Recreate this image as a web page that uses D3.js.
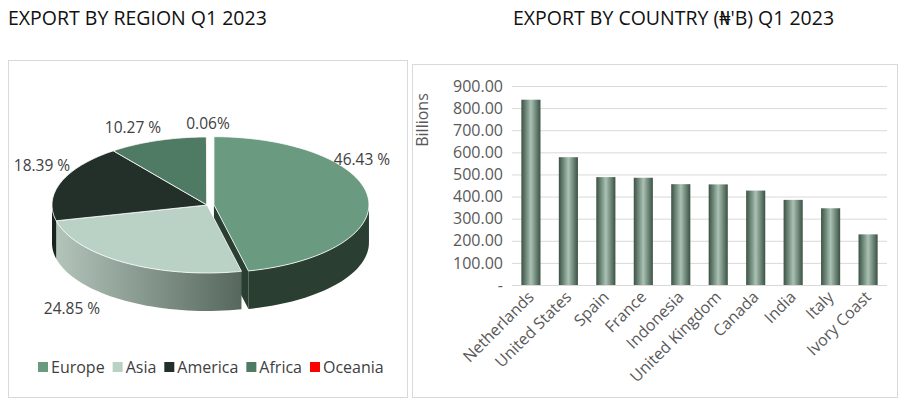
<!DOCTYPE html>
<html><head><meta charset="utf-8">
<script src="https://cdn.jsdelivr.net/npm/d3@7"></script>
<style>body{margin:0;background:#fff}text{font-family:"Open Sans","Noto Sans",sans-serif}</style>
</head><body>
<svg width="900" height="404"></svg>
<script>
var regions = ["Europe", "Asia", "America", "Africa", "Oceania"];
var regionShares = [46.43, 24.85, 18.39, 10.27, 0.06];
var regionLabels = ["46.43 %", "24.85 %", "18.39 %", "10.27 %", "0.06%"];
var countries = ["Netherlands", "United States", "Spain", "France", "Indonesia", "United Kingdom", "Canada", "India", "Italy", "Ivory Coast"];
var exportsB = [838, 578, 488, 485, 456, 455, 427, 385, 347, 229];
var yTicks = [0, 100, 200, 300, 400, 500, 600, 700, 800, 900];

var svg = d3.select("svg");
var defs = svg.append("defs");

// panel frames
svg.append("rect").attr("x", 8.5).attr("y", 60.5).attr("width", 399).attr("height", 337)
    .attr("fill", "none").attr("stroke", "#d9d9d9");
svg.append("rect").attr("x", 412.5).attr("y", 64.5).attr("width", 485).attr("height", 333)
    .attr("fill", "none").attr("stroke", "#d9d9d9");

svg.append("text").attr("x", 8).attr("y", 25).attr("font-size", 19.5).attr("fill", "#111")
    .text("EXPORT BY REGION Q1 2023");
svg.append("text").attr("x", 513).attr("y", 25).attr("font-size", 19.5).attr("fill", "#111")
    .text("EXPORT BY COUNTRY (₦'B) Q1 2023");

// ---------- 3D pie ----------
var topCol = ["#6a9a80", "#bad2c6", "#23302a", "#4f7a63", "#ff0000"];
var sideCol = ["#2b3e32", "url(#asiaSide)", "#1a241f", "#3b5a49", "#cc0000"];
var g1 = defs.append("linearGradient").attr("id", "asiaSide");
g1.append("stop").attr("offset", "0%").attr("stop-color", "#b3c4bb");
g1.append("stop").attr("offset", "100%").attr("stop-color", "#56685d");

var cx = 207, cy = 205, rx = 155, ry = 68, depth = 38;
var arcs = d3.pie().sort(null).value(function (d) { return d; })(regionShares);

function pt(a, ox, oy, dz) {
    return [cx + ox + rx * Math.sin(a), cy + oy - ry * Math.cos(a) + dz];
}
function offs(i) {
    if (i != 0) return [0, 0];
    var m = (arcs[0].startAngle + arcs[0].endAngle) / 2;
    return [7 * Math.sin(m), -7 * Math.cos(m) * ry / rx];
}
var line = d3.line();
var pie = svg.append("g");

// side walls
arcs.forEach(function (a, i) {
    var o = offs(i);
    var s = Math.max(a.startAngle, Math.PI / 2), e = Math.min(a.endAngle, 3 * Math.PI / 2);
    if (e > s) {
        var pts = [], n = 40;
        for (var k = 0; k <= n; k++) pts.push(pt(s + (e - s) * k / n, o[0], o[1], 0));
        for (var k = n; k >= 0; k--) pts.push(pt(s + (e - s) * k / n, o[0], o[1], depth));
        pie.append("path").attr("d", line(pts) + "Z").attr("fill", sideCol[i]);
    }
    if (i == 0) {
        var p1 = pt(a.endAngle, o[0], o[1], 0);
        var c0 = [cx + o[0], cy + o[1]];
        pie.append("path").attr("d", line([c0, p1, [p1[0], p1[1] + depth], [c0[0], c0[1] + depth]]) + "Z")
            .attr("fill", "#2b3e32");
    }
});
// tops
arcs.forEach(function (a, i) {
    var o = offs(i), pts = [[cx + o[0], cy + o[1]]], n = 60;
    for (var k = 0; k <= n; k++) pts.push(pt(a.startAngle + (a.endAngle - a.startAngle) * k / n, o[0], o[1], 0));
    pie.append("path").attr("d", line(pts) + "Z").attr("fill", topCol[i])
        .attr("stroke", "#fff").attr("stroke-width", 0.8);
});

var labelPos = [[362, 165], [72, 314], [42, 171], [133, 133], [208, 129]];
regionLabels.forEach(function (t, i) {
    svg.append("text").attr("x", labelPos[i][0]).attr("y", labelPos[i][1]).attr("text-anchor", "middle")
        .attr("font-size", 15.5).attr("fill", "#404040").text(t);
});

// legend
var lx = 38;
regions.forEach(function (r, i) {
    svg.append("rect").attr("x", lx).attr("y", 362).attr("width", 10).attr("height", 10).attr("fill", topCol[i]);
    var t = svg.append("text").attr("x", lx + 13).attr("y", 373).attr("font-size", 16).attr("fill", "#404040").text(r);
    lx += 13 + t.node().getComputedTextLength() + 8;
});

// ---------- bar chart ----------
var x = d3.scaleBand().domain(countries).range([512, 887]).paddingInner(0.49).paddingOuter(0.25);
var y = d3.scaleLinear().domain([0, 900]).range([285, 86]);

var bg = defs.append("linearGradient").attr("id", "barG");
[["0%", "#3a5143"], ["50%", "#a9c2b3"], ["100%", "#3a5143"]].forEach(function (s) {
    bg.append("stop").attr("offset", s[0]).attr("stop-color", s[1]);
});

var ax = svg.append("g").attr("transform", "translate(512,0)")
    .call(d3.axisLeft(y).tickValues(yTicks).tickSize(-375)
        .tickFormat(function (d) { return d == 0 ? "-" : d3.format(".2f")(d); }));
ax.select(".domain").remove();
ax.selectAll(".tick line").attr("stroke", "#d9d9d9");
ax.selectAll(".tick text").attr("font-size", 16).attr("fill", "#595959").attr("x", -9)
    .attr("font-family", "Open Sans");

svg.append("text").attr("transform", "translate(428,120) rotate(-90)").attr("text-anchor", "middle")
    .attr("font-size", 16).attr("fill", "#595959").text("Billions");

svg.selectAll(".bar").data(exportsB).enter().append("rect")
    .attr("x", function (d, i) { return x(countries[i]); })
    .attr("y", function (d) { return y(d); })
    .attr("width", x.bandwidth())
    .attr("height", function (d) { return y(0) - y(d); })
    .attr("fill", "url(#barG)");

countries.forEach(function (c) {
    var bx = x(c) + x.bandwidth() / 2 + 4;
    svg.append("text").attr("transform", "translate(" + bx + ",298) rotate(-45)")
        .attr("text-anchor", "end").attr("font-size", 16).attr("fill", "#595959").text(c);
});
</script>
</body></html>
